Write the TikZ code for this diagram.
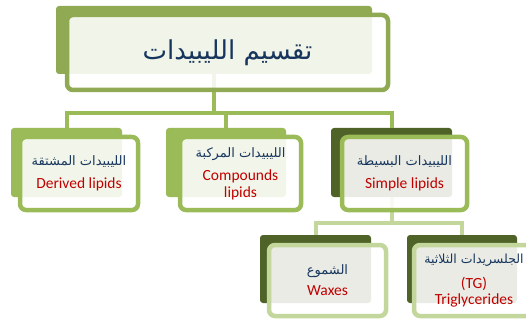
\documentclass[tikz,border=0pt]{standalone}
\usepackage{fontspec}
\setmainfont{Carlito}
\newfontfamily\arabicfont[Script=Arabic]{DejaVu Sans}
\TeXXeTstate=1
\definecolor{titlegreen}{RGB}{143,170,82}
\definecolor{midgreen}{RGB}{155,187,89}
\definecolor{darkgreen}{RGB}{79,98,40}
\definecolor{palegreen}{RGB}{195,214,155}
\definecolor{navy}{RGB}{23,54,93}
\definecolor{lipidred}{RGB}{192,0,0}
\newcommand{\arabtxt}[1]{{\arabicfont\beginR #1\endR}}
\newcommand{\entxt}[1]{{\fontsize{15.5}{17}\selectfont\color{lipidred}#1}}
\tikzset{
	backbox/.style={fill=#1, rounded corners=3pt, inner sep=0pt},
	frontbox/.style={draw=#1, line width=4.5pt, fill=white, fill opacity=0.88,
		text opacity=1, text=navy, rounded corners=6pt, align=center, inner sep=0pt,
		font=\fontsize{13}{15}\selectfont},
	link/.style={draw=#1, line width=4pt}
}
\begin{document}
\begin{tikzpicture}[x=1pt, y=-1pt]
		\useasboundingbox (0,0) rectangle (526,320);

		% Back boxes
		\node[backbox=titlegreen, minimum width=316, minimum height=68] (titleback) at (214, 40){};
		\node[backbox=midgreen, minimum width=111, minimum height=69] (derivedback) at (66.5, 162.5){};
		\node[backbox=midgreen, minimum width=120, minimum height=69] (compoundback) at (226, 162.5){};
		\node[backbox=darkgreen, minimum width=121, minimum height=69] (simpleback) at (391.5, 162.5){};
		\node[backbox=darkgreen, minimum width=111, minimum height=68] (waxback) at (315.5, 269){};
		\node[backbox=darkgreen, minimum width=110, minimum height=68] (tgback) at (462, 269){};

		% Connectors
		\coordinate (bar1) at (214, 113);
		\coordinate (bar2) at (391.5, 223);

		\draw[link=midgreen] (titleback.south) -- (bar1);
		\draw[link=midgreen] (derivedback.north) |- (bar1) -| (simpleback.north);
		\draw[link=midgreen] (compoundback.north) -- (compoundback.north |- bar1);
		\draw[link=palegreen] (simpleback.south) -- (bar2);
		\draw[link=palegreen] (waxback.north) |- (bar2) -| (tgback.north);

		% Front boxes
		\node[frontbox=titlegreen, minimum width=321, minimum height=75,
			font=\fontsize{26}{30}\selectfont] (title) at (227.5, 52.5){\arabtxt{تقسيم الليبيدات}};
		\node[frontbox=midgreen, minimum width=118, minimum height=73] (derived) at (79, 173.5)
			{\arabtxt{الليبيدات المشتقة}\\[8pt]\entxt{Derived lipids}};
		\node[frontbox=midgreen, minimum width=121, minimum height=73] (compound) at (240.5, 173.5)
			{\arabtxt{الليبيدات المركبة}\\[8pt]\entxt{Compounds}\\[2pt]\entxt{lipids}};
		\node[frontbox=midgreen, minimum width=125, minimum height=73] (simple) at (404.5, 173.5)
			{\arabtxt{الليبيدات البسيطة}\\[8pt]\entxt{Simple lipids}};
		\node[frontbox=palegreen, minimum width=117, minimum height=71] (wax) at (327.5, 280.5)
			{\arabtxt{الشموع}\\[6pt]\entxt{Waxes}};
		\node[frontbox=palegreen, minimum width=120, minimum height=71] (tg) at (474, 280.5)
			{{\fontsize{12.5}{14}\selectfont\arabtxt{الجلسريدات الثلاثية}}\\[10pt]\entxt{(TG)}\\[1pt]\entxt{Triglycerides}};
	\end{tikzpicture}
\end{document}
